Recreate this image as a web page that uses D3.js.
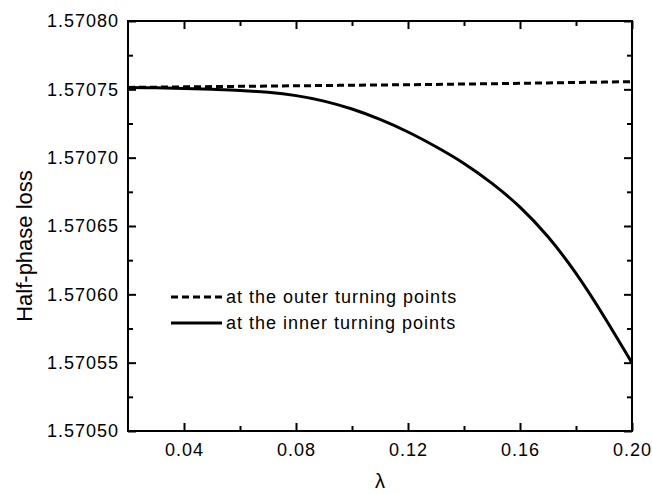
<!DOCTYPE html>
<html>
<head>
<meta charset="utf-8">
<script src="https://cdn.jsdelivr.net/npm/d3@7"></script>
<style>
  html, body { margin: 0; padding: 0; background: #fff; }
  svg { display: block; font-family: Arial, "Liberation Sans", sans-serif; }
</style>
</head>
<body>
<svg id="chart" width="652" height="494"></svg>
<script>
// ---- data ----
const lambdaValues = [0.02, 0.03, 0.04, 0.05, 0.06, 0.07, 0.08, 0.09, 0.10, 0.11,
                      0.12, 0.13, 0.14, 0.15, 0.16, 0.17, 0.18, 0.19, 0.20];
const outerTurning = [1.5707514, 1.5707516, 1.5707518, 1.5707520, 1.5707522, 1.5707524, 1.5707526,
                      1.5707528, 1.5707530, 1.5707532, 1.5707534, 1.5707536, 1.5707539, 1.5707541,
                      1.5707544, 1.5707547, 1.5707550, 1.5707553, 1.5707556];
const innerTurning = [1.5707513, 1.5707511, 1.5707507, 1.5707500, 1.5707492, 1.5707478, 1.5707454,
                      1.5707414, 1.5707356, 1.5707280, 1.5707188, 1.5707080, 1.5706958, 1.5706812,
                      1.5706638, 1.5706421, 1.5706153, 1.5705838, 1.5705498];
const seriesNames = ["at the outer turning points", "at the inner turning points"];
const xMajorTicks = [0.04, 0.08, 0.12, 0.16, 0.20];
const xMinorTicks = [0.06, 0.10, 0.14, 0.18];
const yMajorTicks = [1.57050, 1.57055, 1.57060, 1.57065, 1.57070, 1.57075, 1.57080];
const yMinorTicks = [1.570525, 1.570575, 1.570625, 1.570675, 1.570725, 1.570775];
const xTitle = "λ";
const yTitle = "Half-phase loss";

// ---- layout ----
const svg = d3.select("#chart");
const L = 128, R = 632, T = 21, B = 431;
const x = d3.scaleLinear().domain([0.02, 0.20]).range([L, R]);
const y = d3.scaleLinear().domain([1.57050, 1.57080]).range([B, T]);

function styleAxis(g) {
  g.select(".domain").remove();
  g.selectAll(".tick line").attr("stroke", "#000").attr("stroke-width", 2);
  g.selectAll(".tick text").attr("fill", "#000");
}

// bottom
svg.append("g").attr("transform", `translate(0,${B})`)
  .call(d3.axisBottom(x).tickValues(xMajorTicks).tickFormat(d3.format(".2f"))
        .tickSize(-8).tickSizeOuter(0).tickPadding(12))
  .call(styleAxis)
  .call(g => g.selectAll(".tick text").attr("font-size", 18).attr("letter-spacing", 1)
              .attr("font-family", "Arial, 'Liberation Sans', sans-serif"));
svg.append("g").attr("transform", `translate(0,${B})`)
  .call(d3.axisBottom(x).tickValues(xMinorTicks).tickFormat("").tickSize(-5).tickSizeOuter(0))
  .call(styleAxis);
// top
svg.append("g").attr("transform", `translate(0,${T})`)
  .call(d3.axisTop(x).tickValues(xMajorTicks).tickFormat("").tickSize(-8).tickSizeOuter(0))
  .call(styleAxis);
svg.append("g").attr("transform", `translate(0,${T})`)
  .call(d3.axisTop(x).tickValues(xMinorTicks).tickFormat("").tickSize(-5).tickSizeOuter(0))
  .call(styleAxis);
// left
svg.append("g").attr("transform", `translate(${L},0)`)
  .call(d3.axisLeft(y).tickValues(yMajorTicks).tickFormat(d3.format(".5f"))
        .tickSize(-8).tickSizeOuter(0).tickPadding(9))
  .call(styleAxis)
  .call(g => g.selectAll(".tick text").attr("font-size", 18).attr("letter-spacing", 1)
              .attr("font-family", "Arial, 'Liberation Sans', sans-serif"));
svg.append("g").attr("transform", `translate(${L},0)`)
  .call(d3.axisLeft(y).tickValues(yMinorTicks).tickFormat("").tickSize(-5).tickSizeOuter(0))
  .call(styleAxis);
// right
svg.append("g").attr("transform", `translate(${R},0)`)
  .call(d3.axisRight(y).tickValues(yMajorTicks).tickFormat("").tickSize(-8).tickSizeOuter(0))
  .call(styleAxis);
svg.append("g").attr("transform", `translate(${R},0)`)
  .call(d3.axisRight(y).tickValues(yMinorTicks).tickFormat("").tickSize(-5).tickSizeOuter(0))
  .call(styleAxis);

// frame
svg.append("rect").attr("x", L).attr("y", T).attr("width", R - L).attr("height", B - T)
  .attr("fill", "none").attr("stroke", "#000").attr("stroke-width", 2);

// lines
svg.append("clipPath").attr("id", "clip")
  .append("rect").attr("x", L).attr("y", T - 2).attr("width", R - L).attr("height", B - T + 4);
const line = d3.line().x(d => x(d[0])).y(d => y(d[1])).curve(d3.curveNatural);
const outerData = lambdaValues.map((l, i) => [l, outerTurning[i]]);
const innerData = lambdaValues.map((l, i) => [l, innerTurning[i]]);

svg.append("path").datum(outerData).attr("d", line).attr("clip-path", "url(#clip)")
  .attr("fill", "none").attr("stroke", "#000").attr("stroke-width", 3)
  .attr("stroke-dasharray", "7,4");
svg.append("path").datum(innerData).attr("d", line).attr("clip-path", "url(#clip)")
  .attr("fill", "none").attr("stroke", "#000").attr("stroke-width", 3);

// legend
const legend = svg.append("g");
const legendRows = [{ name: seriesNames[0], dash: "7,4", y: 297 },
                    { name: seriesNames[1], dash: null, y: 323 }];
legendRows.forEach(r => {
  legend.append("line").attr("x1", 171).attr("x2", 222).attr("y1", r.y).attr("y2", r.y)
    .attr("stroke", "#000").attr("stroke-width", 3)
    .attr("stroke-dasharray", r.dash);
  legend.append("text").attr("x", 226).attr("y", r.y).attr("dy", "0.35em")
    .attr("font-size", 18).attr("letter-spacing", 1).attr("fill", "#000")
    .text(r.name);
});

// axis titles
svg.append("text").attr("x", (L + R) / 2).attr("y", 488).attr("text-anchor", "middle")
  .attr("font-size", 20).attr("fill", "#000").text(xTitle);
svg.append("text").attr("transform", `translate(32,${(T + B) / 2 + 20}) rotate(-90)`)
  .attr("text-anchor", "middle").attr("font-size", 22).attr("fill", "#000").text(yTitle);
</script>
</body>
</html>
